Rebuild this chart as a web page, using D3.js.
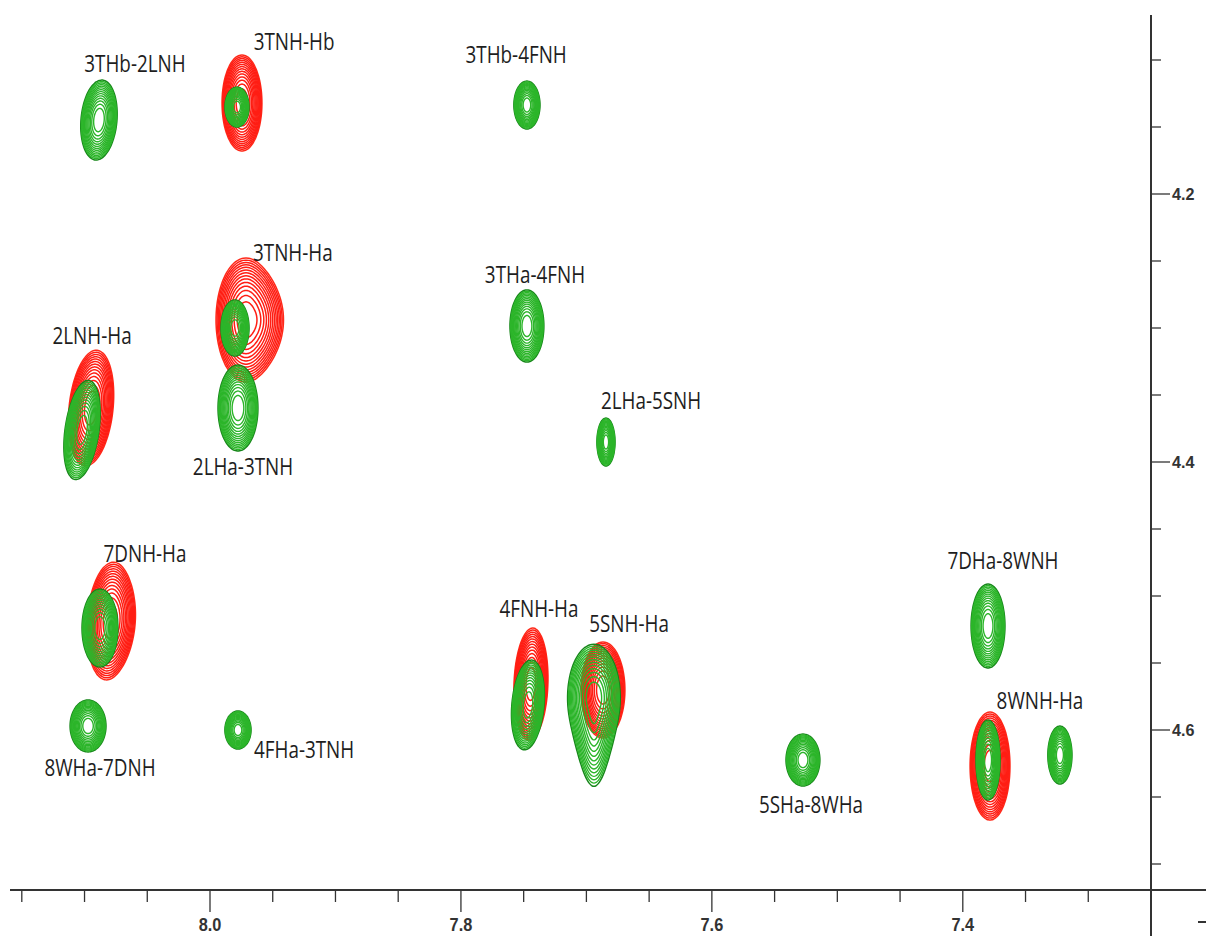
<!DOCTYPE html>
<html>
<head>
<meta charset="utf-8">
<script src="https://cdn.jsdelivr.net/npm/d3@7/dist/d3.min.js"></script>
<style>
  html, body { margin: 0; padding: 0; background: #fff; }
  svg { display: block; }
</style>
</head>
<body>
<div id="chart"></div>
<script>
// ---------- DATA (chemical shifts in ppm) ----------
// x = 1H shift (F2), y = 1H shift (F1); wx, wy = half-widths in ppm
const redPeaks = [
  { x: 7.9745, y: 4.1321, wx: 0.0159, wy: 0.0358, rot: 0,  tail: 0,   bulge: 0 },    // 3TNH-Hb
  { x: 7.9713, y: 4.2940, wx: 0.0239, wy: 0.0463, rot: 0,  tail: 0,   bulge: 0.25 }, // 3TNH-Ha
  { x: 8.0948, y: 4.3597, wx: 0.0175, wy: 0.0433, rot: 6,  tail: 0,   bulge: 0 },    // 2LNH-Ha
  { x: 8.0797, y: 4.5187, wx: 0.0183, wy: 0.0440, rot: 4,  tail: 0,   bulge: 0.1 },  // 7DNH-Ha
  { x: 7.7442, y: 4.5657, wx: 0.0135, wy: 0.0418, rot: 2,  tail: 0,   bulge: 0 },    // 4FNH-Ha
  { x: 7.6868, y: 4.5701, wx: 0.0175, wy: 0.0358, rot: 0,  tail: 0,   bulge: 0 },    // 5SNH-Ha
  { x: 7.3783, y: 4.6269, wx: 0.0159, wy: 0.0403, rot: 0,  tail: 0,   bulge: 0 }     // 8WNH-Ha
];
const greenPeaks = [
  { x: 8.0885, y: 4.1448, wx: 0.0143, wy: 0.0299, rot: 5,  tail: 0,   bulge: 0 },    // 3THb-2LNH
  { x: 7.9785, y: 4.1351, wx: 0.0096, wy: 0.0149, rot: 0,  tail: 0,   bulge: 0 },    // 3TNH-Hb
  { x: 7.7474, y: 4.1336, wx: 0.0104, wy: 0.0179, rot: 0,  tail: 0,   bulge: 0 },    // 3THb-4FNH
  { x: 7.9801, y: 4.3000, wx: 0.0112, wy: 0.0209, rot: 0,  tail: 0,   bulge: 0 },    // 3TNH-Ha
  { x: 7.9777, y: 4.3597, wx: 0.0159, wy: 0.0321, rot: 0,  tail: 0,   bulge: 0 },    // 2LHa-3TNH
  { x: 7.7474, y: 4.2985, wx: 0.0135, wy: 0.0269, rot: 0,  tail: 0,   bulge: 0 },    // 3THa-4FNH
  { x: 7.6844, y: 4.3851, wx: 0.0072, wy: 0.0179, rot: 0,  tail: 0,   bulge: 0 },    // 2LHa-5SNH
  { x: 8.1020, y: 4.3761, wx: 0.0135, wy: 0.0373, rot: 8,  tail: 0,   bulge: 0 },    // 2LNH-Ha
  { x: 8.0877, y: 4.5239, wx: 0.0143, wy: 0.0291, rot: 0,  tail: 0,   bulge: 0 },    // 7DNH-Ha
  { x: 8.0972, y: 4.5970, wx: 0.0143, wy: 0.0194, rot: 0,  tail: 0,   bulge: 0 },    // 8WHa-7DNH
  { x: 7.9777, y: 4.6000, wx: 0.0104, wy: 0.0142, rot: 0,  tail: 0,   bulge: 0 },    // 4FHa-3TNH
  { x: 7.7466, y: 4.5813, wx: 0.0128, wy: 0.0336, rot: 5,  tail: 0,   bulge: 0 },    // 4FNH-Ha
  { x: 7.6940, y: 4.5760, wx: 0.0210, wy: 0.0400, rot: 0,  tail: 0.65, bulge: 0 },   // 5SNH-Ha
  { x: 7.5274, y: 4.6224, wx: 0.0135, wy: 0.0194, rot: 0,  tail: 0,   bulge: 0 },    // 5SHa-8WHa
  { x: 7.3799, y: 4.5224, wx: 0.0135, wy: 0.0313, rot: 0,  tail: 0,   bulge: 0 },    // 7DHa-8WNH
  { x: 7.3799, y: 4.6224, wx: 0.0096, wy: 0.0299, rot: 0,  tail: 0,   bulge: 0 },    // 8WNH-Ha
  { x: 7.3226, y: 4.6187, wx: 0.0096, wy: 0.0216, rot: 0,  tail: 0,   bulge: 0 }     // unlabeled
];
const labelText = ["3THb-2LNH", "3TNH-Hb", "3THb-4FNH", "3TNH-Ha", "3THa-4FNH", "2LNH-Ha",
  "2LHa-5SNH", "2LHa-3TNH", "7DNH-Ha", "7DHa-8WNH", "4FNH-Ha", "5SNH-Ha", "8WNH-Ha",
  "8WHa-7DNH", "4FHa-3TNH", "5SHa-8WHa"];
const labelX = [8.0598, 7.9330, 7.7560, 7.9340, 7.7410, 8.0940, 7.6485, 7.9737, 8.0518,
  7.3680, 7.7378, 7.6660, 7.3385, 8.0877, 7.9250, 7.5210];
const labelY = [4.1090, 4.0925, 4.1022, 4.2500, 4.2664, 4.3120, 4.3604, 4.4097, 4.4746,
  4.4799, 4.5157, 4.5269, 4.5843, 4.6343, 4.6209, 4.6619];
const xTicks = [8.15, 8.10, 8.05, 8.00, 7.95, 7.90, 7.85, 7.80, 7.75, 7.70, 7.65, 7.60,
  7.55, 7.50, 7.45, 7.40, 7.35, 7.30];
const xTickLabels = ["8.0", "7.8", "7.6", "7.4"];
const yTicks = [4.10, 4.15, 4.20, 4.25, 4.30, 4.35, 4.40, 4.45, 4.50, 4.55, 4.60, 4.65, 4.70];
const yTickLabels = ["4.2", "4.4", "4.6"];

// ---------- LAYOUT ----------
const W = 1206, H = 936;
const x = d3.scaleLinear().domain([8.0, 7.25]).range([210, 1151]);
const y = d3.scaleLinear().domain([4.2, 4.7]).range([194, 864]);
const pxPerX = Math.abs(x(1) - x(0));
const pxPerY = Math.abs(y(1) - y(0));

const svg = d3.select("#chart").append("svg")
  .attr("width", W).attr("height", H);

// ---------- PEAKS ----------
const NLEV = 14;
function contourPath(p, f) {
  const rx = p.wx * pxPerX * f, ry = p.wy * pxPerY * f;
  const pts = d3.range(0, 72).map(i => {
    const t = i / 72 * 2 * Math.PI;
    const c = Math.cos(t), s = Math.sin(t);
    const px = rx * c * (1 + p.bulge * Math.max(0, c) * Math.max(0, c));
    const py = ry * s * (1 + p.tail * Math.pow(Math.max(0, s), 3));
    return [px, py];
  });
  return d3.line().curve(d3.curveCardinalClosed)(pts);
}
function drawPeaks(group, peaks, color, edge, sw) {
  const g = group.selectAll("g.peak").data(peaks).join("g")
    .attr("class", "peak")
    .attr("transform", p => `translate(${x(p.x)},${y(p.y)}) rotate(${p.rot})`);
  const levels = d3.range(NLEV).map(k => Math.sqrt(1 - (k / NLEV) * 0.985));
  g.each(function (p) {
    const sel = d3.select(this);
    levels.forEach((f, k) => {
      sel.append("path")
        .attr("d", contourPath(p, f))
        .attr("fill", "none")
        .attr("stroke", k === 0 ? edge : color)
        .attr("stroke-width", k === 0 ? 1.5 : sw);
    });
  });
}
const peakLayer = svg.append("g");
drawPeaks(peakLayer.append("g"), redPeaks, "#ff1e14", "#ff2a1a", 1.5);
drawPeaks(peakLayer.append("g"), greenPeaks, "#2cb52a", "#17861a", 1.4);

// ---------- AXES ----------
const axisColor = "#333";
svg.append("line").attr("x1", 10).attr("x2", W).attr("y1", 890).attr("y2", 890)
  .attr("stroke", axisColor).attr("stroke-width", 2);
svg.append("line").attr("x1", x(7.25)).attr("x2", x(7.25)).attr("y1", 15).attr("y2", H)
  .attr("stroke", axisColor).attr("stroke-width", 2);

const isMajorX = v => Math.abs(v * 5 - Math.round(v * 5)) < 1e-6;
svg.append("g").selectAll("line").data(xTicks).join("line")
  .attr("x1", d => x(d)).attr("x2", d => x(d))
  .attr("y1", 890).attr("y2", d => isMajorX(d) ? 912 : 902)
  .attr("stroke", axisColor).attr("stroke-width", 1.3);
svg.append("g").selectAll("text").data(xTickLabels).join("text")
  .attr("transform", d => `translate(${x(+d)},931) scale(0.86,1)`)
  .attr("text-anchor", "middle")
  .attr("font-family", "Liberation Sans, Arial, sans-serif")
  .attr("font-size", 19).attr("font-weight", "bold").attr("fill", "#333")
  .text(d => d);

const isMajorY = v => Math.abs(v * 5 - Math.round(v * 5)) < 1e-6;
const yx = x(7.25);
svg.append("g").selectAll("line").data(yTicks).join("line")
  .attr("x1", yx).attr("x2", d => isMajorY(d) ? yx + 19 : yx + 10)
  .attr("y1", d => y(d)).attr("y2", d => y(d))
  .attr("stroke", axisColor).attr("stroke-width", 1.3);
svg.append("g").selectAll("text").data(yTickLabels).join("text")
  .attr("transform", d => `translate(${yx + 21},${y(+d) + 6}) scale(0.95,1)`)
  .attr("font-family", "Liberation Sans, Arial, sans-serif")
  .attr("font-size", 17).attr("font-weight", "bold").attr("fill", "#333")
  .text(d => d);
svg.append("line").attr("x1", 1198).attr("x2", 1206).attr("y1", 922).attr("y2", 922)
  .attr("stroke", axisColor).attr("stroke-width", 2);

// ---------- LABELS ----------
svg.append("g").selectAll("text").data(labelText).join("text")
  .attr("transform", (d, i) => `translate(${x(labelX[i])},${y(labelY[i])}) scale(0.82,1)`)
  .attr("text-anchor", "middle")
  .attr("font-family", "Open Sans, sans-serif")
  .attr("font-size", 23)
  .attr("fill", "#1e1e1e")
  .text(d => d);
</script>
</body>
</html>
